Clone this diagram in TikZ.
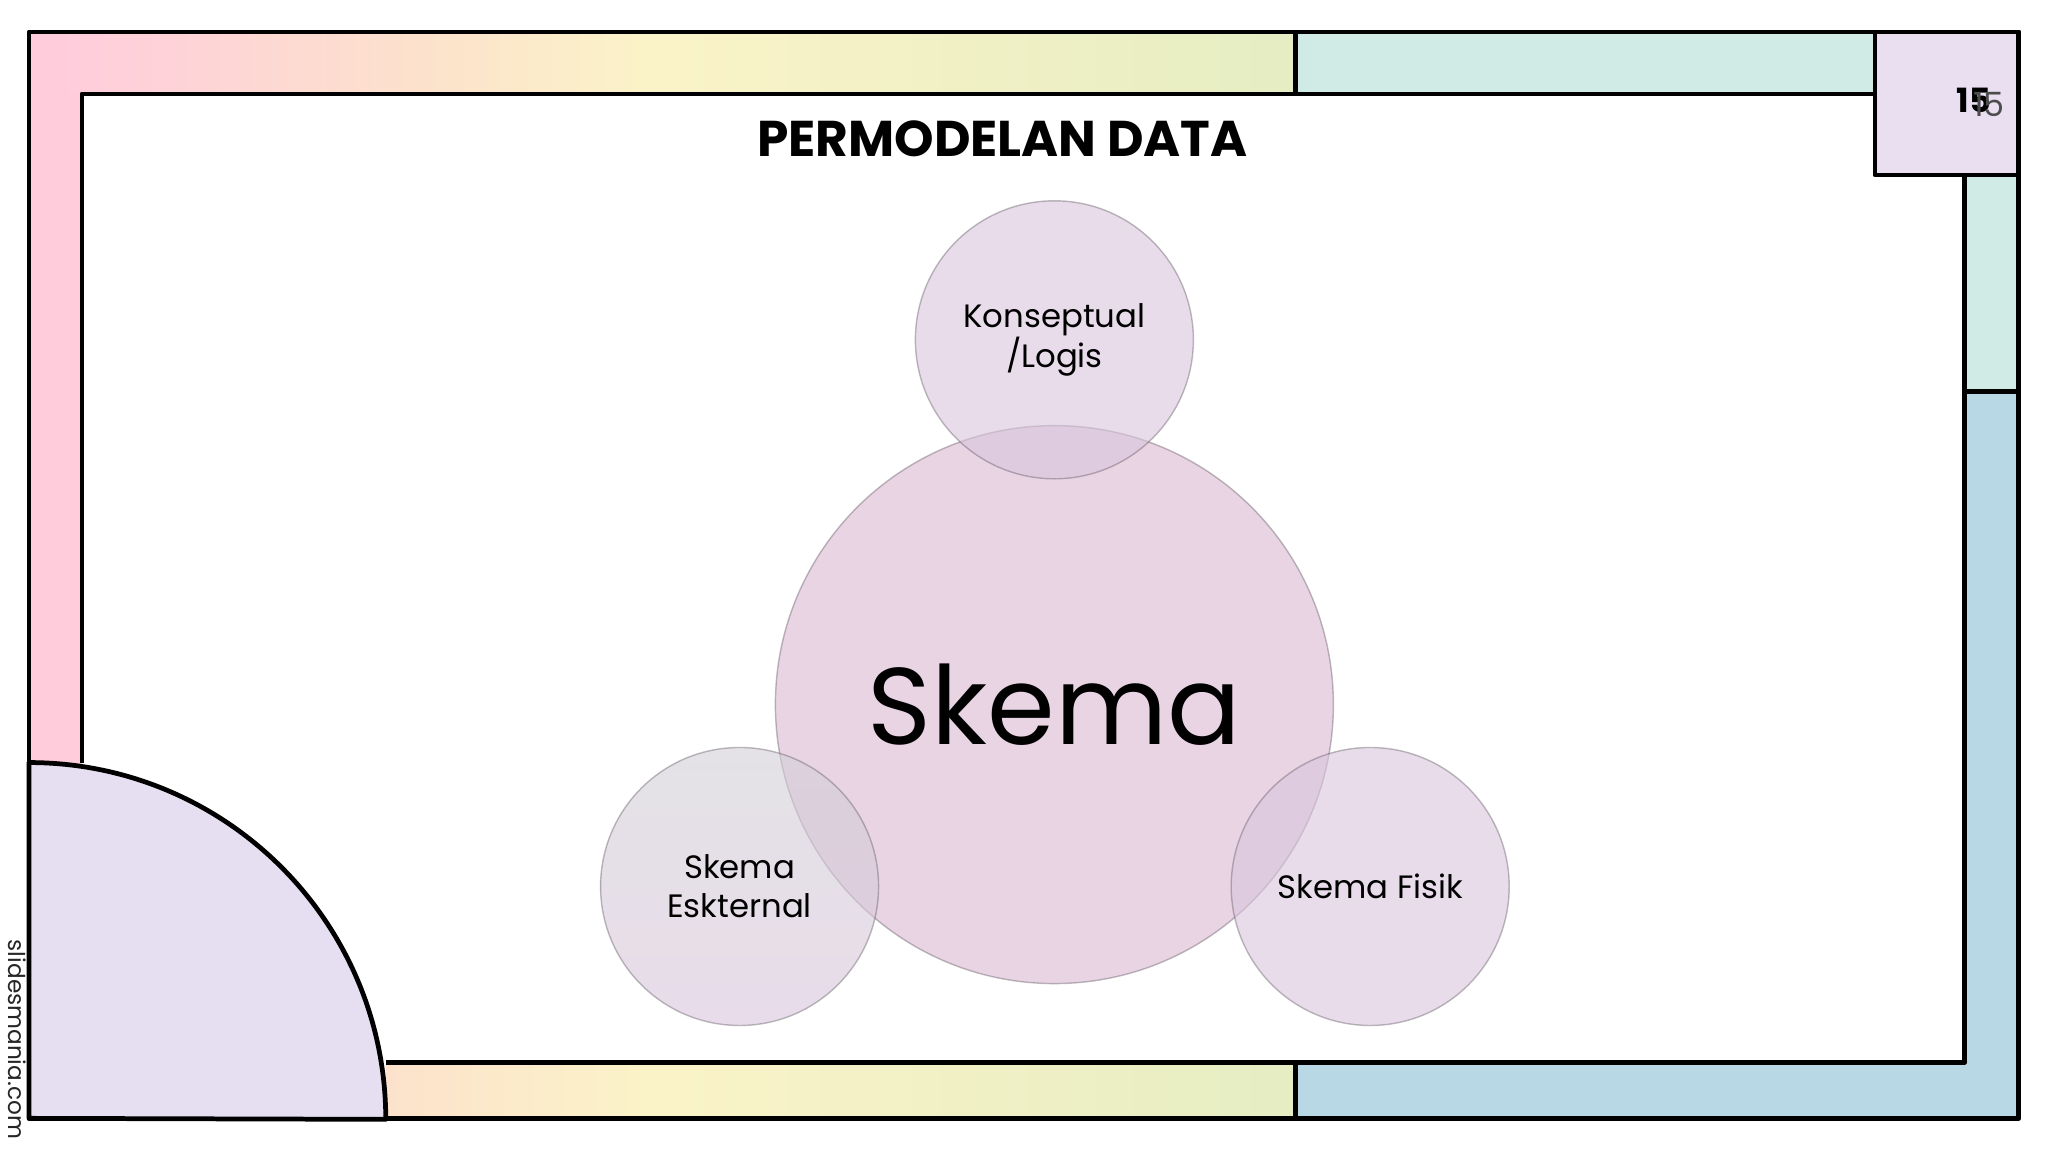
\documentclass[tikz,border=0pt]{standalone}
\usepackage{fontspec}
\setmainfont{Poppins}
\definecolor{framePink}{HTML}{FFCCDC}
\definecolor{framePeach}{HTML}{FCE2CC}
\definecolor{frameYellow}{HTML}{FBF3C8}
\definecolor{frameGreen}{HTML}{E6EDC2}
\definecolor{frameMint}{HTML}{D0EBE6}
\definecolor{frameBlue}{HTML}{B8D8E6}
\definecolor{frameLilac}{HTML}{E9DFF0}
\definecolor{cornerLilac}{HTML}{E6DFF1}
\definecolor{bubble}{HTML}{D9C5DC}
\definecolor{bubbleBig}{HTML}{DBB8D3}
\definecolor{bubbleGrey}{HTML}{D2CFD6}
\tikzset{
	frameline/.style={draw=black, line width=1.35pt, line join=round},
	bubblenode/.style={circle, draw=black!60!bubble, draw opacity=0.38, line width=0.4pt, inner sep=0pt, align=center, fill opacity=0.6, text opacity=1, minimum size=2.78cm, font=\fontsize{9.2}{11.2}\selectfont},
}
\begin{document}
\begin{tikzpicture}
	\useasboundingbox (0, 0) rectangle (20.48, -11.52);
	\fill[white] (0, 0) rectangle (20.48, -11.52);
	\begin{scope}[x=0.01cm, y=-0.01cm]
		% Define the coloured bands of the frame
		\fill[framePink] (29, 32) rectangle (82, 1119);
		\shade[left color=framePink, right color=framePeach] (60, 32) rectangle (430, 94);
		\shade[left color=framePeach, right color=frameYellow] (430, 32) rectangle (650, 94);
		\shade[left color=frameYellow, right color=frameGreen] (650, 32) rectangle (1296, 94);
		\shade[left color=framePeach, right color=frameYellow] (386, 1063) rectangle (650, 1119);
		\shade[left color=frameYellow, right color=frameGreen] (650, 1063) rectangle (1296, 1119);
		\fill[frameMint] (1296, 32) rectangle (2020, 94);
		\fill[frameMint] (1966, 94) rectangle (2020, 392);
		\fill[frameBlue] (1966, 392) rectangle (2020, 1119);
		\fill[frameBlue] (1296, 1063) rectangle (2020, 1119);

		% Draw the lines of the frame
		\draw[frameline] (29, 32) rectangle (2020, 1119);
		\draw[frameline] (82, 763) -- (82, 94) -- (1966, 94) -- (1966, 1063) -- (386, 1063);
		\draw[frameline] (1296, 32) -- (1296, 94);
		\draw[frameline] (1296, 1063) -- (1296, 1119);
		\draw[frameline] (1966, 392) -- (2020, 392);

		% Corner pieces
		\draw[frameline, fill=frameLilac] (1876, 32) rectangle (2020, 175);
		\draw[frameline, fill=cornerLilac] (29, 763) arc[start angle=-90, end angle=0, radius=357] -- (386, 1120) -- (29, 1119) -- cycle;

		\node[font=\fontsize{9.5}{11}\selectfont\bfseries] (pagebold) at (1975, 100) {15};
		\node[font=\fontsize{9.5}{11}\selectfont, text=black!70] (pagethin) at (1990, 105) {15};
		\node[font=\fontsize{14.3}{17}\selectfont\bfseries] (title) at (1003, 139) {PERMODELAN DATA};
		\node[rotate=-90, font=\fontsize{6.6}{8}\selectfont, text=black!85] (brand) at (17, 1040) {slidesmania.com};

		% Define the circles
		\node[bubblenode, minimum size=5.58cm, fill=bubbleBig, font=\fontsize{31}{38}\selectfont] (skema) at (1055, 705) {Skema};
		\node[bubblenode, fill=bubble] (konseptual) at (1055, 340) {Konseptual\\/Logis};
		\node[bubblenode, shade, top color=bubbleGrey, bottom color=bubble] (eksternal) at (740, 887) {Skema\\Eskternal};
		\node[bubblenode, fill=bubble] (fisik) at (1371, 887) {Skema Fisik};
	\end{scope}
\end{tikzpicture}
\end{document}
